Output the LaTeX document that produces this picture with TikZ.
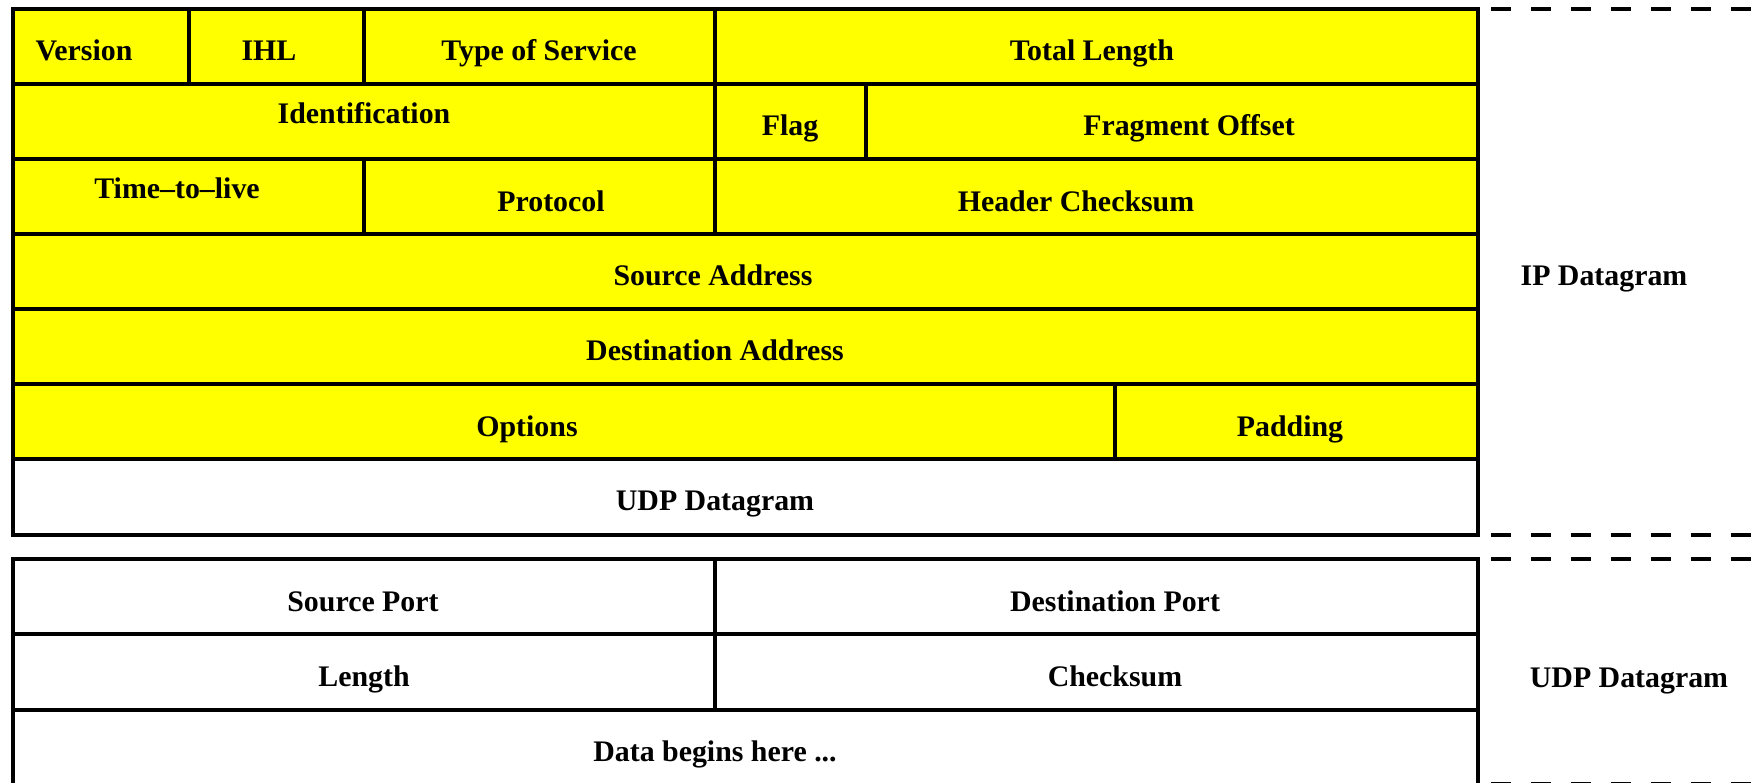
\documentclass[tikz,border=0pt]{standalone}
\usepackage{fontspec}
\setmainfont{Liberation Serif}
\usetikzlibrary{positioning}

\definecolor{ipyellow}{RGB}{255,255,0}

\tikzset{
  ipcell/.style={draw=black, fill=ipyellow, line width=2.3pt},
  udpcell/.style={draw=black, fill=white, line width=2.3pt},
  field/.style={font=\bfseries\fontsize{17}{20}\selectfont, inner sep=0pt, text height=0.66em, text depth=0pt, yshift=-0.1cm},
  boundary/.style={line width=2.3pt, dash pattern=on 0.4cm off 0.4cm}
}

\begin{document}
\begin{tikzpicture}[x=0.02cm, y=-0.02cm]
\useasboundingbox (0,0) rectangle (1752,783);

% IP header, row 1
\draw[ipcell] (13,9) rectangle (189,84);
\draw[ipcell] (189,9) rectangle (364,84);
\draw[ipcell] (364,9) rectangle (715,84);
\draw[ipcell] (715,9) rectangle (1478,84);
\node[field] (version) at (84,50) {Version};
\node[field] (ihl) at (269,50) {IHL};
\node[field] (tos) at (539,50) {Type of Service};
\node[field] (totlen) at (1092,50) {Total Length};

% row 2
\draw[ipcell] (13,84) rectangle (715,159);
\draw[ipcell] (715,84) rectangle (866,159);
\draw[ipcell] (866,84) rectangle (1478,159);
\node[field] (ident) at (364,113) {Identification};
\node[field] (flag) at (790,125) {Flag};
\node[field] (fragoff) at (1189,125) {Fragment Offset};

% row 3
\draw[ipcell] (13,159) rectangle (364,234);
\draw[ipcell] (364,159) rectangle (715,234);
\draw[ipcell] (715,159) rectangle (1478,234);
\node[field] (ttl) at (177,188) {Time--to--live};
\node[field] (proto) at (551,201) {Protocol};
\node[field] (hdrsum) at (1076,201) {Header Checksum};

% addresses
\draw[ipcell] (13,234) rectangle (1478,309);
\node[field] (srcaddr) at (713,275) {Source Address};
\draw[ipcell] (13,309) rectangle (1478,384);
\node[field] (dstaddr) at (715,350) {Destination Address};

% options
\draw[ipcell] (13,384) rectangle (1115,459);
\draw[ipcell] (1115,384) rectangle (1478,459);
\node[field] (options) at (527,426) {Options};
\node[field] (padding) at (1290,426) {Padding};

% payload
\draw[udpcell] (13,459) rectangle (1478,535);
\node[field] (payload) at (715,500) {UDP Datagram};

% UDP header
\draw[udpcell] (13,559) rectangle (715,634);
\draw[udpcell] (715,559) rectangle (1478,634);
\node[field] (srcport) at (363,601) {Source Port};
\node[field] (dstport) at (1115,601) {Destination Port};
\draw[udpcell] (13,634) rectangle (715,710);
\draw[udpcell] (715,634) rectangle (1478,710);
\node[field] (udplen) at (364,676) {Length};
\node[field] (udpsum) at (1115,676) {Checksum};
\draw[udpcell] (13,710) rectangle (1478,785);
\node[field] (data) at (715,751) {Data begins here ...};

% boundaries and side labels
\draw[boundary] (1491,9) -- (1752,9);
\draw[boundary] (1491,535) -- (1752,535);
\draw[boundary] (1491,559) -- (1752,559);
\draw[boundary] (1491,784) -- (1752,784);
\node[field] (iplabel) at (1604,275) {IP Datagram};
\node[field] (udplabel) at (1629,677) {UDP Datagram};
\end{tikzpicture}
\end{document}
